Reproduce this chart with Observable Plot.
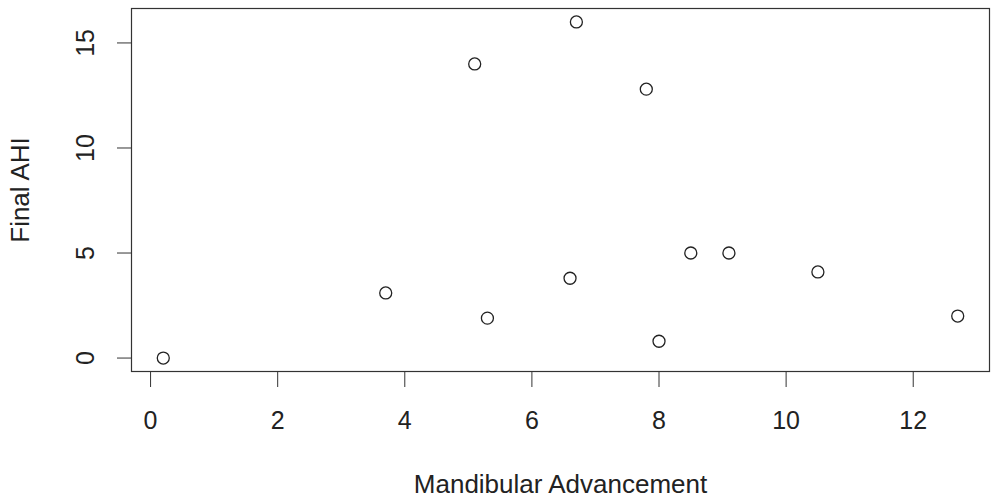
<!DOCTYPE html>
<html>
<head>
<meta charset="utf-8">
<script src="https://cdn.jsdelivr.net/npm/d3@7"></script>
<script src="https://cdn.jsdelivr.net/npm/@observablehq/plot@0.6"></script>
<style>
  html, body { margin: 0; padding: 0; background: #fff; }
  #chart svg { display: block; }
</style>
</head>
<body>
<div id="chart"></div>
<script>
const mandibularAdvancement = [0.2, 3.7, 5.1, 5.3, 6.6, 6.7, 7.8, 8.0, 8.5, 9.1, 10.5, 12.7];
const finalAHI = [0, 3.1, 14, 1.9, 3.8, 16, 12.8, 0.8, 5, 5, 4.1, 2.0];
const xTicks = [0, 2, 4, 6, 8, 10, 12];
const yTicks = [0, 5, 10, 15];
const xTitle = "Mandibular Advancement";
const yTitle = "Final AHI";

const data = mandibularAdvancement.map((x, i) => ({x, y: finalAHI[i]}));

const chart = Plot.plot({
  width: 995,
  height: 502,
  marginLeft: 131,
  marginRight: 6,
  marginTop: 8,
  marginBottom: 131,
  style: {fontFamily: "'Liberation Sans', Arial, Helvetica, sans-serif", fontSize: "25px", color: "#222", background: "#fff"},
  x: {domain: [-0.3, 13.2]},
  y: {domain: [-0.64, 16.64]},
  marks: [
    Plot.frame({stroke: "#333", strokeWidth: 1.2}),
    Plot.axisX({ticks: xTicks, tickSize: 16, tickPadding: 24, fontSize: 25, stroke: "#333", tickFormat: d => String(d), label: null}),
    Plot.axisX({ticks: [], label: xTitle, labelAnchor: "center", labelOffset: 121, labelArrow: false, fontSize: 26}),
    Plot.axisY({ticks: yTicks, tickSize: 14, tickPadding: 24, tickRotate: -90, fontSize: 25, stroke: "#333", tickFormat: d => String(d), label: null}),
    Plot.axisY({ticks: [], label: yTitle, labelAnchor: "center", labelOffset: 121, labelArrow: false, fontSize: 26}),
    Plot.dot(data, {x: "x", y: "y", r: 6, stroke: "#222", strokeWidth: 1.3, fill: "none"})
  ]
});
document.getElementById("chart").appendChild(chart);
</script>
</body>
</html>
